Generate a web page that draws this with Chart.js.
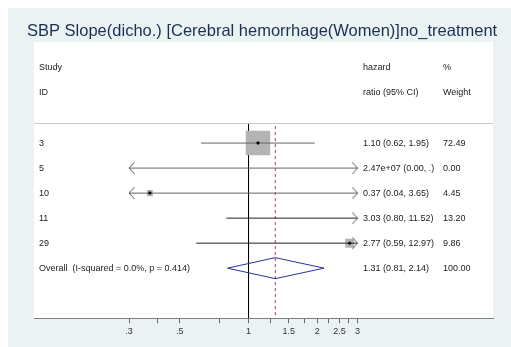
<!DOCTYPE html>
<html>
<head>
<meta charset="utf-8">
<script src="https://cdn.jsdelivr.net/npm/chart.js@4"></script>
<style>
  body { margin: 0; background: #fff; }
</style>
</head>
<body>
<canvas id="forest" width="511" height="347"></canvas>
<script>
const chartTitle = 'SBP Slope(dicho.) [Cerebral hemorrhage(Women)]no_treatment';
const studyIds = ['3', '5', '10', '11', '29'];
const hazardRatios = [1.10, 2.47e7, 0.37, 3.03, 2.77];
const lowerCI = [0.62, 0.00, 0.04, 0.80, 0.59];
const upperCI = [1.95, null, 3.65, 11.52, 12.97];
const weights = [72.49, 0.00, 4.45, 13.20, 9.86];
const overallHR = 1.31;
const overallCI = [0.81, 2.14];
const iSquared = 0.0;
const pHet = 0.414;
const tickValues = [0.3, 0.4, 0.5, 0.75, 1, 1.25, 1.5, 1.75, 2, 2.25, 2.5, 2.75, 3];
const tickLabels = ['.3', '', '.5', '', '1', '', '1.5', '', '2', '', '2.5', '', '3'];

const FONT = "'Liberation Sans', Arial, sans-serif";
const plotMin = tickValues[0];
const plotMax = tickValues[tickValues.length - 1];
const overallRow = studyIds.length;

function fmt(v) {
  if (v == null) return '.';
  if (v >= 1e5) {
    const [m, e] = v.toExponential(2).split('e');
    return m + 'e' + e[0] + e.slice(1).padStart(2, '0');
  }
  return v.toFixed(2);
}

// open chevron arrows, tip sits at the image centre
function makeArrow(dir) {
  const c = document.createElement('canvas');
  c.width = 12; c.height = 14;
  const g = c.getContext('2d');
  g.strokeStyle = '#555';
  g.lineWidth = 1;
  g.beginPath();
  if (dir < 0) { g.moveTo(11.5, 1); g.lineTo(6, 7); g.lineTo(11.5, 13); }
  else { g.moveTo(0.5, 1); g.lineTo(6, 7); g.lineTo(0.5, 13); }
  g.stroke();
  return c;
}
const leftArrow = makeArrow(-1);
const rightArrow = makeArrow(1);

const ciColors = ['#666', '#666', '#666', '#222', '#222'];
const datasets = [];

studyIds.forEach((id, i) => {
  const lo = lowerCI[i], hi = upperCI[i];
  const loClip = lo < plotMin, hiClip = hi == null || hi > plotMax;
  datasets.push({
    type: 'scatter', showLine: true, order: 1,
    data: [{ x: loClip ? plotMin : lo, y: i }, { x: hiClip ? plotMax : hi, y: i }],
    borderColor: ciColors[i], borderWidth: 1,
    pointRadius: 3,
    pointStyle: [loClip ? leftArrow : false, hiClip ? rightArrow : false]
  });
});

const inRange = studyIds.map((id, i) => i).filter(i => hazardRatios[i] >= plotMin && hazardRatios[i] <= plotMax);
const maxW = Math.max(...weights);

datasets.push({
  type: 'scatter', order: 2,
  data: inRange.map(i => ({ x: hazardRatios[i], y: i })),
  pointStyle: 'rect',
  pointRadius: inRange.map(i => 17.3 * Math.sqrt(weights[i] / maxW)),
  backgroundColor: '#b4b4b4', borderWidth: 0
});
datasets.push({
  type: 'scatter', order: 0,
  data: inRange.map(i => ({ x: hazardRatios[i], y: i })),
  pointStyle: 'rectRot', pointRadius: 2,
  backgroundColor: '#000', borderWidth: 0
});

// overall diamond
datasets.push({
  type: 'scatter', showLine: true, order: 1,
  data: [
    { x: overallCI[0], y: overallRow },
    { x: overallHR, y: overallRow - 0.42 },
    { x: overallCI[1], y: overallRow },
    { x: overallHR, y: overallRow + 0.42 },
    { x: overallCI[0], y: overallRow }
  ],
  borderColor: '#2a3196', borderWidth: 1, pointRadius: 0
});

// overall effect dashed line and no-effect line
datasets.push({
  type: 'scatter', showLine: true, order: 3,
  data: [{ x: overallHR, y: -0.68 }, { x: overallHR, y: 7 }],
  borderColor: '#a8424e', borderWidth: 1, borderDash: [3, 3], pointRadius: 0
});
datasets.push({
  type: 'scatter', showLine: true, order: 4,
  data: [{ x: 1, y: -0.76 }, { x: 1, y: 7 }],
  borderColor: '#000', borderWidth: 1, pointRadius: 0
});

const decor = {
  id: 'decor',
  beforeDraw(chart) {
    const { ctx, chartArea: a } = chart;
    ctx.save();
    ctx.fillStyle = '#fff';
    ctx.fillRect(0, 0, chart.width, chart.height);
    ctx.fillStyle = '#eaf2f3';
    ctx.fillRect(8, 8, chart.width - 8, chart.height - 8);
    ctx.fillStyle = '#fff';
    ctx.fillRect(a.left, a.top, a.right - a.left, a.bottom - a.top);
    // header separator
    const ys = chart.scales.y.getPixelForValue(-0.8);
    ctx.strokeStyle = '#c8c8c8';
    ctx.lineWidth = 1;
    ctx.beginPath();
    ctx.moveTo(a.left, Math.round(ys) + 0.5);
    ctx.lineTo(a.right, Math.round(ys) + 0.5);
    ctx.stroke();
    ctx.restore();
  },
  afterDraw(chart) {
    const { ctx, chartArea: a } = chart;
    const y = chart.scales.y;
    ctx.save();
    ctx.fillStyle = '#1c2f52';
    ctx.font = '16.5px ' + FONT;
    ctx.textBaseline = 'alphabetic';
    ctx.fillText(chartTitle, 27, 36);

    ctx.fillStyle = '#222';
    ctx.font = '9px ' + FONT;
    ctx.textBaseline = 'middle';
    const c1 = a.left + 5, c2 = 363, c3 = 443;
    const put = (t, x, row) => ctx.fillText(t, x, y.getPixelForValue(row));
    put('Study', c1, -3.04); put('ID', c1, -2.04);
    put('hazard', c2, -3.04); put('ratio (95% CI)', c2, -2.04);
    put('%', c3, -3.04); put('Weight', c3, -2.04);
    studyIds.forEach((id, i) => {
      put(id, c1, i);
      put(fmt(hazardRatios[i]) + ' (' + fmt(lowerCI[i]) + ', ' + fmt(upperCI[i]) + ')', c2, i);
      put(weights[i].toFixed(2), c3, i);
    });
    put('Overall  (I-squared = ' + iSquared.toFixed(1) + '%, p = ' + pHet.toFixed(3) + ')', c1, overallRow);
    put(fmt(overallHR) + ' (' + fmt(overallCI[0]) + ', ' + fmt(overallCI[1]) + ')', c2, overallRow);
    put(weights.reduce((s, w) => s + w, 0).toFixed(2), c3, overallRow);
    ctx.restore();
  }
};

new Chart(document.querySelector('#forest'), {
  type: 'scatter',
  data: { datasets },
  options: {
    responsive: false,
    animation: false,
    layout: { padding: { left: 34, right: 18, top: 42, bottom: 7 } },
    plugins: { legend: { display: false }, tooltip: { enabled: false }, title: { display: false } },
    scales: {
      x: {
        type: 'logarithmic',
        min: 0.1151,
        max: 11.75,
        afterBuildTicks: s => { s.ticks = tickValues.map(v => ({ value: v })); },
        ticks: {
          autoSkip: false, maxRotation: 0, padding: 3,
          color: '#333', font: { family: FONT, size: 9 },
          callback: v => tickLabels[tickValues.indexOf(v)] ?? ''
        },
        grid: { drawOnChartArea: false, drawTicks: true, tickLength: 5, color: '#666' },
        border: { display: true, color: '#808080', width: 1 }
      },
      y: {
        type: 'linear', display: false, reverse: true,
        min: -4.04, max: 7
      }
    }
  },
  plugins: [decor]
});
</script>
</body>
</html>
